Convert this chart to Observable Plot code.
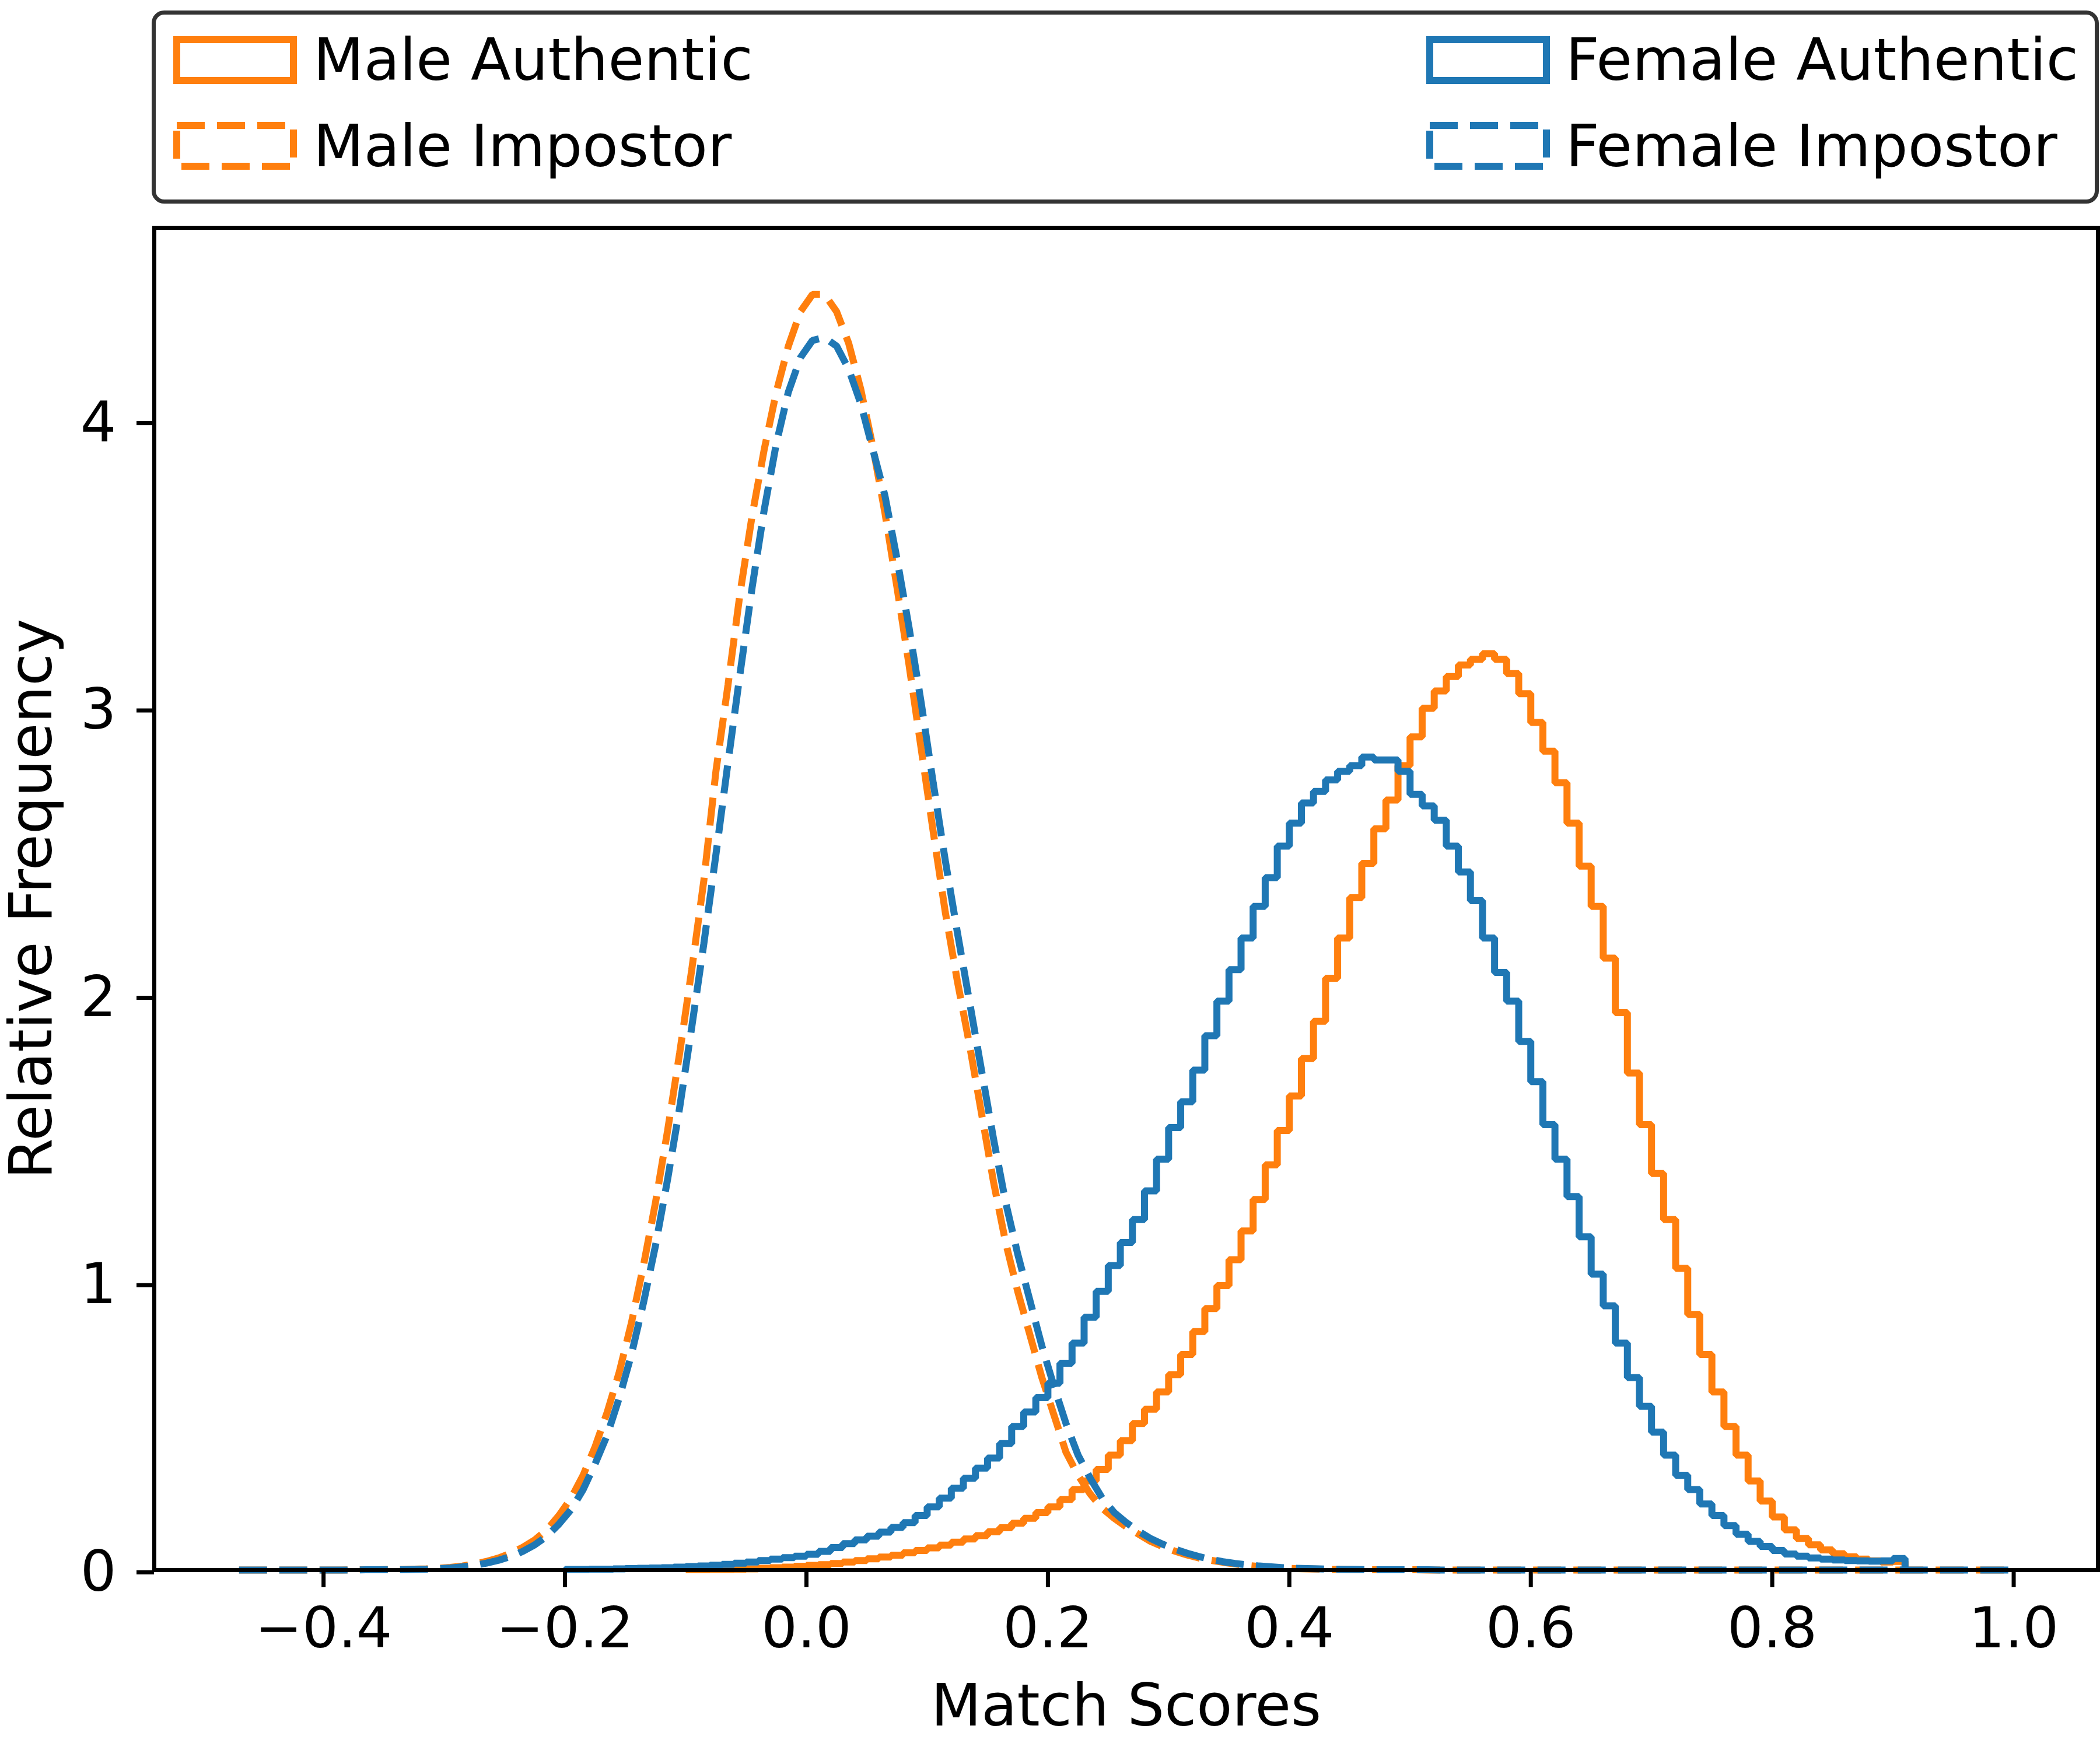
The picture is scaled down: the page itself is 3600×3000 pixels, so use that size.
<!DOCTYPE html>
<html>
<head>
<meta charset="utf-8">
<script src="https://cdn.jsdelivr.net/npm/d3@7"></script>
<script src="https://cdn.jsdelivr.net/npm/@observablehq/plot@0.6"></script>
<style>
  html, body { margin: 0; padding: 0; background: #fff; }
  #root { width: 3600px; height: 3000px; background: #fff; font-family: "DejaVu Sans", sans-serif; }
  #legend { display: block; }
</style>
</head>
<body>
<div id="root">
  <svg id="legend" width="3600" height="360" xmlns="http://www.w3.org/2000/svg"></svg>
  <div id="chart"></div>
</div>
<script>
// ---- Series names and colours ----
const seriesNames = ["Male Authentic", "Male Impostor", "Female Authentic", "Female Impostor"];
const seriesColors = ["#ff7f0e", "#ff7f0e", "#1f77b4", "#1f77b4"];

// ---- Histogram bins (width 0.01) ----
const binWidth = 0.01;
const impostorStart = -0.47;   // first bin edge of impostor histograms
const maleAuthStart = -0.10;   // first bin edge of male authentic histogram
const femaleAuthStart = -0.20; // first bin edge of female authentic histogram

// Male Impostor: relative frequency per bin, from -0.47 to 1.00
const maleImpostor = [
  0,0,0,0,0,0,0,0,0,0.001,0.001,0.001,0.002,
  0.002,0.003,0.004,0.006,0.009,0.014,0.021,0.03,0.042,0.058,
  0.079,0.105,0.14,0.19,0.25,0.33,0.43,0.55,0.69,0.86,
  1.06,1.28,1.53,1.80,2.09,2.40,2.78,3.08,3.40,3.67,
  3.90,4.10,4.26,4.38,4.44,4.44,4.38,4.27,4.11,3.91,
  3.68,3.42,3.15,2.86,2.57,2.29,2.05,1.83,1.59,1.35,
  1.14,0.97,0.82,0.67,0.54,0.41,0.33,0.265,0.215,0.18,
  0.15,0.125,0.10,0.082,0.066,0.053,0.042,0.034,0.027,0.021,
  0.016,0.012,0.009,0.007,0.005,0.004,0.003,0.002,0.002,0.001,
  0.001,0.001,0.001,0.001,0.001,0,0,0,0,0,
  0,0,0,0,0,0,0,0,0,0,
  0,0,0,0,0,0,0,0,0,0,
  0,0,0,0,0,0,0,0,0,0,
  0,0,0,0,0,0,0,0,0,0,
  0,0,0,0
];

// Female Impostor: relative frequency per bin, from -0.47 to 1.00
const femaleImpostor = [
  0,0,0,0,0,0,0,0,0,0,0.001,0.001,0.001,
  0.001,0.002,0.003,0.005,0.007,0.011,0.016,0.024,0.034,0.047,
  0.065,0.088,0.118,0.16,0.21,0.28,0.37,0.47,0.60,0.75,
  0.93,1.13,1.36,1.61,1.89,2.18,2.49,2.81,3.12,3.42,
  3.69,3.92,4.10,4.22,4.28,4.29,4.26,4.18,4.06,3.90,
  3.74,3.52,3.28,3.02,2.74,2.47,2.22,1.98,1.74,1.50,
  1.28,1.10,0.94,0.78,0.64,0.51,0.40,0.32,0.25,0.20,
  0.165,0.135,0.11,0.09,0.073,0.059,0.047,0.037,0.029,0.023,
  0.018,0.014,0.011,0.008,0.006,0.005,0.004,0.003,0.002,0.002,
  0.001,0.001,0.001,0.001,0.001,0.001,0,0,0,0,
  0,0,0,0,0,0,0,0,0,0,
  0,0,0,0,0,0,0,0,0,0,
  0,0,0,0,0,0,0,0,0,0,
  0,0,0,0,0,0,0,0,0,0,
  0,0,0,0
];

// Male Authentic: relative frequency per bin, from -0.10 to 0.91
const maleAuthentic = [
  0.001,0.001,0.002,0.002,0.003,0.004,0.006,0.008,0.010,0.013,
  0.016,0.019,0.023,0.028,0.033,0.039,0.045,0.052,0.060,0.068,
  0.077,0.087,0.097,0.108,0.12,0.133,0.147,0.163,0.18,0.20,
  0.22,0.245,0.28,0.31,0.35,0.40,0.45,0.51,0.56,0.62,
  0.68,0.75,0.83,0.91,0.99,1.08,1.18,1.29,1.41,1.53,
  1.65,1.78,1.91,2.06,2.20,2.34,2.46,2.58,2.68,2.80,
  2.90,3.00,3.06,3.11,3.15,3.17,3.19,3.17,3.12,3.05,
  2.95,2.85,2.74,2.60,2.45,2.31,2.13,1.94,1.73,1.55,
  1.38,1.22,1.05,0.89,0.75,0.62,0.50,0.40,0.31,0.24,
  0.185,0.14,0.11,0.088,0.07,0.057,0.046,0.038,0.032,0.028,
  0.03
];

// Female Authentic: relative frequency per bin, from -0.20 to 0.91
const femaleAuthentic = [
  0.002,0.002,0.003,0.003,0.004,0.005,0.006,0.007,0.008,0.010,
  0.012,0.014,0.017,0.020,0.024,0.028,0.033,0.038,0.043,0.048,
  0.055,0.065,0.078,0.092,0.105,0.118,0.132,0.148,0.165,0.19,
  0.22,0.25,0.285,0.32,0.355,0.39,0.44,0.50,0.55,0.60,
  0.65,0.72,0.79,0.88,0.97,1.06,1.14,1.22,1.32,1.43,
  1.54,1.63,1.74,1.86,1.98,2.09,2.20,2.31,2.41,2.52,
  2.60,2.67,2.71,2.75,2.78,2.80,2.83,2.82,2.82,2.78,
  2.70,2.66,2.61,2.52,2.43,2.33,2.20,2.08,1.98,1.84,
  1.70,1.55,1.43,1.30,1.16,1.03,0.92,0.79,0.67,0.57,
  0.48,0.40,0.33,0.28,0.23,0.19,0.155,0.125,0.10,0.082,
  0.068,0.056,0.048,0.042,0.038,0.035,0.033,0.032,0.031,0.032,
  0.04
];

// ---- Axis ticks ----
const xTicks = [-0.4, -0.2, 0.0, 0.2, 0.4, 0.6, 0.8, 1.0];
const xTickLabels = ["\u22120.4", "\u22120.2", "0.0", "0.2", "0.4", "0.6", "0.8", "1.0"];
const yTicks = [0, 1, 2, 3, 4];
const yTickLabels = ["0", "1", "2", "3", "4"];
const xLabel = "Match Scores";
const yLabel = "Relative Frequency";

// Step outline closed to zero at both ends (like histtype="step")
function stepOutline(start, values) {
  const pts = [{x: start, y: 0}];
  values.forEach((v, i) => pts.push({x: start + i * binWidth, y: v}));
  pts.push({x: start + values.length * binWidth, y: 0});
  return pts;
}
// Fine-binned outline traced through bin centres (the reference's very narrow bins read as a smooth line)
function centreOutline(start, values) {
  const pts = [{x: start, y: values[0]}];
  values.forEach((v, i) => pts.push({x: start + (i + 0.5) * binWidth, y: v}));
  pts.push({x: start + values.length * binWidth, y: values[values.length - 1]});
  return pts;
}

const series = [
  {data: stepOutline(maleAuthStart, maleAuthentic), color: seriesColors[0], dash: null, curve: "step-after"},
  {data: centreOutline(impostorStart, maleImpostor), color: seriesColors[1], dash: "48,21", curve: "linear"},
  {data: stepOutline(femaleAuthStart, femaleAuthentic), color: seriesColors[2], dash: null, curve: "step-after"},
  {data: centreOutline(impostorStart, femaleImpostor), color: seriesColors[3], dash: "48,21", curve: "linear"}
];

const LW = 12;

const chart = Plot.plot({
  width: 3600,
  height: 2640,
  marginTop: 30,
  marginBottom: 309,
  marginLeft: 264,
  marginRight: 4,
  style: {fontFamily: "DejaVu Sans", background: "#fff", overflow: "visible"},
  x: {domain: [-0.5402, 1.0698]},
  y: {domain: [0, 4.672]},
  marks: [
    ...series.map(s => Plot.line(s.data, {
      x: "x", y: "y", curve: s.curve,
      stroke: s.color, strokeWidth: LW,
      strokeDasharray: s.dash == null ? undefined : s.dash,
      strokeLinejoin: "miter", strokeLinecap: "butt"
    })),
    Plot.frame({stroke: "#000", strokeWidth: 7}),
    Plot.axisX({
      ticks: xTicks, tickFormat: d => xTickLabels[xTicks.indexOf(d)],
      tickSize: 30, tickPadding: 34, fontSize: 97, strokeWidth: 7, label: null, fill: "#000"
    }),
    Plot.axisY({
      ticks: yTicks, tickFormat: d => yTickLabels[yTicks.indexOf(d)],
      tickSize: 30, tickPadding: 35, fontSize: 97, strokeWidth: 7, label: null, dy: 4, fill: "#000"
    }),
    Plot.text([xLabel], {frameAnchor: "bottom", dy: 266, lineAnchor: "bottom", textAnchor: "middle", fontSize: 100, fill: "#000"}),
    Plot.text([yLabel], {frameAnchor: "left", dx: -177, rotate: -90, lineAnchor: "bottom", textAnchor: "middle", fontSize: 101, fill: "#000"})
  ]
});
document.getElementById("chart").appendChild(chart);

// ---- Legend (above the chart) ----
const leg = d3.select("#legend");
leg.append("rect")
  .attr("x", 263.5).attr("y", 21.5).attr("width", 3331).attr("height", 324)
  .attr("rx", 18).attr("ry", 18)
  .attr("fill", "#fff").attr("stroke", "#333").attr("stroke-width", 7);

const legendItems = [
  {name: seriesNames[0], color: seriesColors[0], dash: null, px: 297, py: 62, tx: 537, ty: 137},
  {name: seriesNames[1], color: seriesColors[1], dash: "48,21", px: 297, py: 209, tx: 537, ty: 285},
  {name: seriesNames[2], color: seriesColors[2], dash: null, px: 2445, py: 62, tx: 2684, ty: 137},
  {name: seriesNames[3], color: seriesColors[3], dash: "48,21", px: 2445, py: 209, tx: 2684, ty: 285}
];
legendItems.forEach(it => {
  leg.append("rect")
    .attr("x", it.px + LW / 2).attr("y", it.py + LW / 2)
    .attr("width", 212 - LW).attr("height", 82 - LW)
    .attr("fill", "none").attr("stroke", it.color).attr("stroke-width", LW)
    .attr("stroke-dasharray", it.dash)
    .attr("stroke-linejoin", "miter");
  leg.append("text")
    .attr("x", it.tx).attr("y", it.ty)
    .attr("font-family", "DejaVu Sans").attr("font-size", 100.5).attr("fill", "#000")
    .text(it.name);
});
</script>
</body>
</html>
